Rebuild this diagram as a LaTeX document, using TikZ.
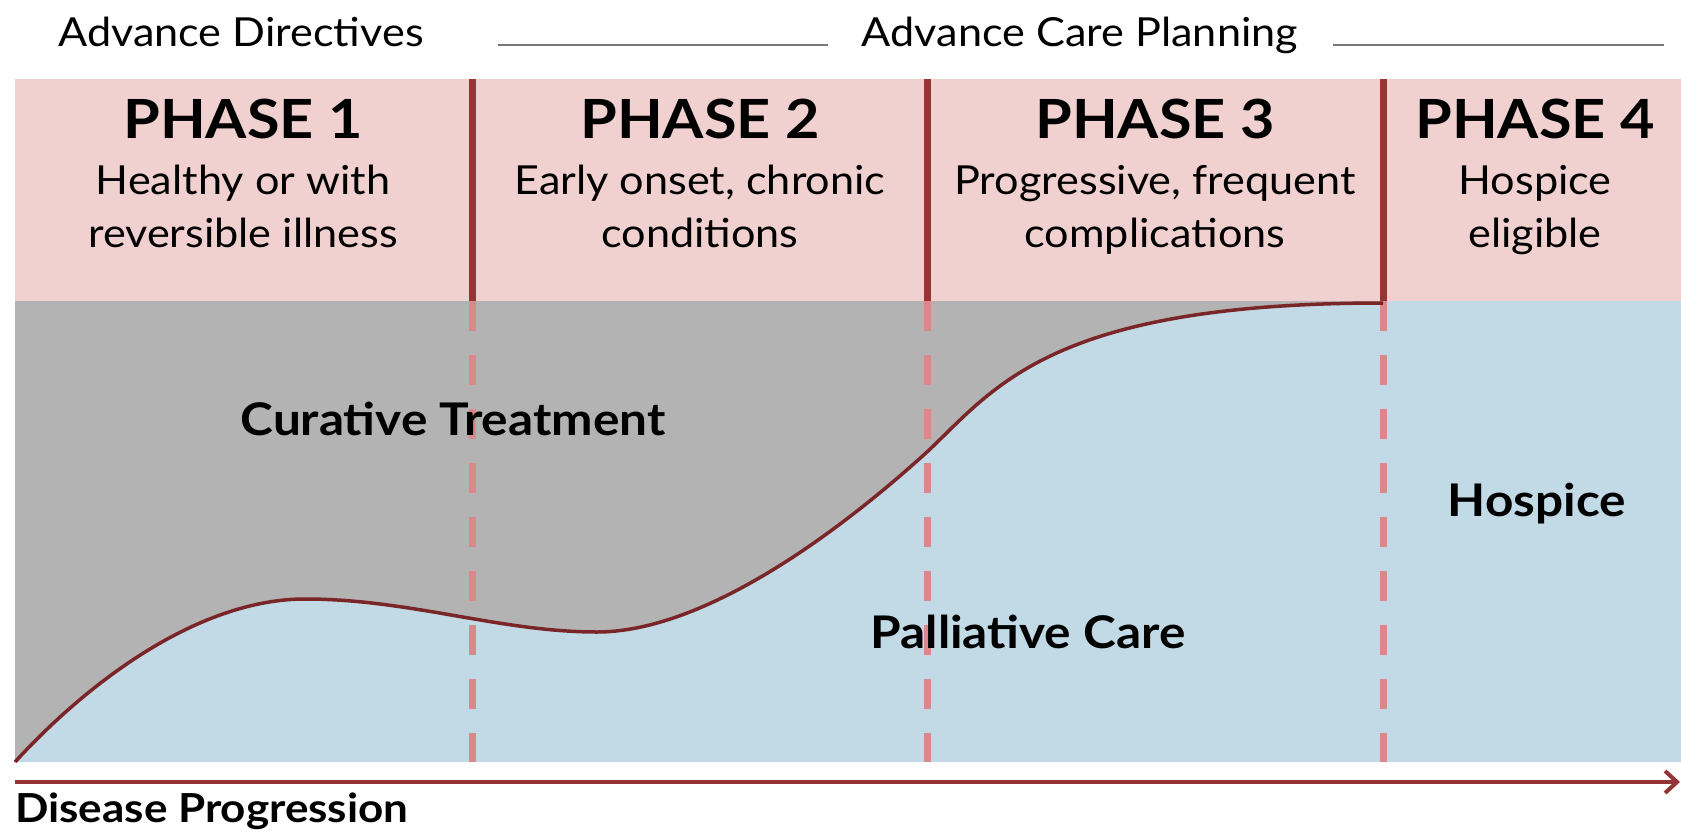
\documentclass[tikz,border=0pt]{standalone}
\usepackage{fontspec}
\setmainfont{Lato}
\newfontfamily\regfont{Lato}[FakeStretch=1.08]
\newfontfamily\boldfont{Lato}[FakeStretch=1.1]
\usetikzlibrary{arrows.meta}
\definecolor{pinkbg}{RGB}{241,208,208}
\definecolor{graybg}{RGB}{179,179,179}
\definecolor{bluebg}{RGB}{194,218,230}
\definecolor{darkred}{RGB}{149,52,52}
\definecolor{curvered}{RGB}{122,38,40}
\definecolor{dashred}{RGB}{218,136,138}
\definecolor{linegray}{RGB}{120,120,120}
\tikzset{
  toplabel/.style={font=\regfont\fontsize{40}{46}\selectfont, inner sep=0pt, anchor=base},
  phasetitle/.style={font=\boldfont\bfseries\fontsize{54}{60}\selectfont, inner sep=0pt, anchor=base},
  phasesub/.style={font=\regfont\fontsize{40}{46}\selectfont, inner sep=0pt, anchor=base},
  arealabel/.style={font=\boldfont\bfseries\fontsize{45}{50}\selectfont, inner sep=0pt, anchor=base},
  axislabel/.style={font=\boldfont\bfseries\fontsize{40}{46}\selectfont, inner sep=0pt, anchor=base west},
  divider/.style={draw=darkred, line width=7pt},
  dashdiv/.style={draw=dashred, line width=7pt, dash pattern=on 30pt off 24pt},
  rule/.style={draw=linegray, line width=1.5pt},
  curveline/.style={draw=curvered, line width=3.5pt, line join=round},
  axis/.style={draw=darkred, line width=4pt, -{Straight Barb[length=12pt,width=22pt,line width=4pt]}}
}
\begin{document}
\begin{tikzpicture}[x=1pt,y=-1pt]
\useasboundingbox (0,0) rectangle (1681,835);
% backgrounds
\fill[pinkbg] (15,79) rectangle (1681,301);
\fill[graybg] (15,301) rectangle (1383,762);
\fill[bluebg] (15,762) .. controls (90,680) and (200,599) .. (305,599)
  .. controls (410,599) and (500,632) .. (597,632)
  .. controls (700,632) and (830,540) .. (927,452)
  .. controls (995,388) and (1050,303) .. (1383,303)
  -- (1383,301) -- (1681,301) -- (1681,762) -- cycle;
% dashed phase lines
\coordinate (d1t) at (472,301); \coordinate (d1b) at (472,762);
\coordinate (d2t) at (927,301); \coordinate (d2b) at (927,762);
\coordinate (d3t) at (1383,301); \coordinate (d3b) at (1383,762);
\draw[dashdiv] (d1t) -- (d1b);
\draw[dashdiv] (d2t) -- (d2b);
\draw[dashdiv] (d3t) -- (d3b);
% solid dividers
\coordinate (s1) at (472,79); \coordinate (s2) at (927,79); \coordinate (s3) at (1383,79);
\draw[divider] (s1) -- (d1t);
\draw[divider] (s2) -- (d2t);
\draw[divider] (s3) -- (d3t);
% curve
\coordinate (c0) at (15,762);
\coordinate (c4) at (1383,303);
\draw[curveline] (c0) .. controls (90,680) and (200,599) .. (305,599)
  .. controls (410,599) and (500,632) .. (597,632)
  .. controls (700,632) and (830,540) .. (927,452)
  .. controls (995,388) and (1050,303) .. (c4);
% axis
\coordinate (axL) at (15,782);
\coordinate (axR) at (1680,782);
\draw[axis] (axL) -- (axR);
% top labels and rules
\node[toplabel] (ad) at (241,46) {Advance Directives};
\node[toplabel] (acp) at (1080,46) {Advance Care Planning};
\coordinate (r1a) at (498,45); \coordinate (r1b) at (828,45);
\coordinate (r2a) at (1333,45); \coordinate (r2b) at (1664,45);
\draw[rule] (r1a) -- (r1b);
\draw[rule] (r2a) -- (r2b);
% phase headers
\node[phasetitle] (p1) at (243,138) {PHASE 1};
\node[phasesub] (p1a) at (243,194) {Healthy or with};
\node[phasesub] (p1b) at (243,247) {reversible illness};
\node[phasetitle] (p2) at (700,138) {PHASE 2};
\node[phasesub] (p2a) at (700,194) {Early onset, chronic};
\node[phasesub] (p2b) at (700,247) {conditions};
\node[phasetitle] (p3) at (1155,138) {PHASE 3};
\node[phasesub] (p3a) at (1155,194) {Progressive, frequent};
\node[phasesub] (p3b) at (1155,247) {complications};
\node[phasetitle] (p4) at (1535,138) {PHASE 4};
\node[phasesub] (p4a) at (1535,194) {Hospice};
\node[phasesub] (p4b) at (1535,247) {eligible};
% area labels
\node[arealabel] (cur) at (453,435) {Curative Treatment};
\node[arealabel] (pal) at (1028,648) {Palliative Care};
\node[arealabel] (hos) at (1537,516) {Hospice};
\node[axislabel] (dis) at (15,822) {Disease Progression};
\end{tikzpicture}
\end{document}
